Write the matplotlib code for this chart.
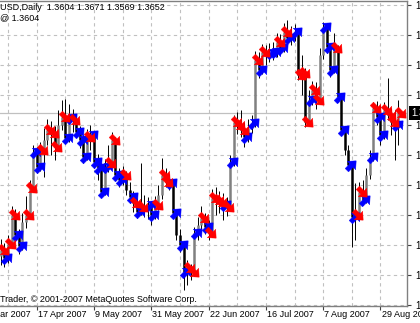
import matplotlib
matplotlib.use('Agg')
import matplotlib.pyplot as plt
import numpy as np
from matplotlib.path import Path
from matplotlib.markers import MarkerStyle
from matplotlib.transforms import Affine2D

# daily bars, EURUSD
opens = [1.3318, 1.3330, 1.3314, 1.3342, 1.3400, 1.3360, 1.3338, 1.3386, 1.3400, 1.3454,
         1.3526, 1.3496, 1.3530, 1.3550, 1.3570, 1.3564, 1.3536, 1.3580, 1.3596, 1.3554,
         1.3594, 1.3590, 1.3566, 1.3550, 1.3516, 1.3556, 1.3560, 1.3506, 1.3494, 1.3446,
         1.3496, 1.3504, 1.3550, 1.3480, 1.3470, 1.3480, 1.3450, 1.3436, 1.3424, 1.3406,
         1.3416, 1.3414, 1.3420, 1.3400, 1.3420, 1.3440, 1.3480, 1.3466, 1.3464, 1.3404,
         1.3360, 1.3340, 1.3286, 1.3294, 1.3286, 1.3364, 1.3380, 1.3394, 1.3376, 1.3364,
         1.3434, 1.3430, 1.3426, 1.3420, 1.3416, 1.3506, 1.3586, 1.3580, 1.3570, 1.3556,
         1.3574, 1.3584, 1.3710, 1.3690, 1.3726, 1.3720, 1.3724, 1.3726, 1.3746, 1.3734,
         1.3766, 1.3754, 1.3760, 1.3766, 1.3680, 1.3684, 1.3586, 1.3630, 1.3650, 1.3630,
         1.3720, 1.3776, 1.3736, 1.3690, 1.3734, 1.3636, 1.3570, 1.3530, 1.3500, 1.3396,
         1.3400, 1.3446, 1.3430, 1.3480, 1.3516, 1.3614, 1.3596, 1.3560, 1.3610, 1.3600,
         1.3586, 1.3580]
highs = [1.3352, 1.3345, 1.3360, 1.3418, 1.3412, 1.3372, 1.3404, 1.3438, 1.3470, 1.3540,
         1.3536, 1.3546, 1.3574, 1.3592, 1.3588, 1.3578, 1.3610, 1.3630, 1.3632, 1.3622,
         1.3612, 1.3600, 1.3578, 1.3560, 1.3572, 1.3580, 1.3568, 1.3522, 1.3504, 1.3512,
         1.3540, 1.3566, 1.3556, 1.3494, 1.3498, 1.3488, 1.3466, 1.3448, 1.3434, 1.3504,
         1.3440, 1.3436, 1.3428, 1.3438, 1.3460, 1.3514, 1.3494, 1.3482, 1.3470, 1.3410,
         1.3372, 1.3348, 1.3310, 1.3302, 1.3376, 1.3396, 1.3418, 1.3404, 1.3390, 1.3452,
         1.3456, 1.3448, 1.3444, 1.3436, 1.3520, 1.3600, 1.3606, 1.3610, 1.3586, 1.3592,
         1.3600, 1.3728, 1.3726, 1.3742, 1.3740, 1.3744, 1.3746, 1.3764, 1.3762, 1.3784,
         1.3790, 1.3778, 1.3782, 1.3772, 1.3720, 1.3694, 1.3650, 1.3668, 1.3666, 1.3734,
         1.3786, 1.3784, 1.3744, 1.3764, 1.3740, 1.3644, 1.3578, 1.3540, 1.3506, 1.3464,
         1.3466, 1.3470, 1.3494, 1.3530, 1.3626, 1.3628, 1.3620, 1.3626, 1.3674, 1.3614,
         1.3610, 1.3630]
lows = [1.3300, 1.3296, 1.3305, 1.3335, 1.3348, 1.3322, 1.3330, 1.3374, 1.3392, 1.3446,
        1.3484, 1.3488, 1.3476, 1.3540, 1.3520, 1.3510, 1.3528, 1.3570, 1.3544, 1.3546,
        1.3566, 1.3556, 1.3534, 1.3504, 1.3510, 1.3530, 1.3494, 1.3470, 1.3436, 1.3440,
        1.3486, 1.3498, 1.3470, 1.3456, 1.3460, 1.3440, 1.3424, 1.3406, 1.3394, 1.3400,
        1.3396, 1.3392, 1.3380, 1.3392, 1.3410, 1.3432, 1.3456, 1.3450, 1.3396, 1.3350,
        1.3326, 1.3250, 1.3260, 1.3270, 1.3278, 1.3350, 1.3368, 1.3362, 1.3350, 1.3356,
        1.3400, 1.3404, 1.3390, 1.3398, 1.3408, 1.3498, 1.3562, 1.3556, 1.3536, 1.3546,
        1.3564, 1.3576, 1.3674, 1.3682, 1.3700, 1.3706, 1.3710, 1.3716, 1.3720, 1.3726,
        1.3740, 1.3740, 1.3748, 1.3670, 1.3640, 1.3576, 1.3580, 1.3620, 1.3612, 1.3622,
        1.3712, 1.3724, 1.3676, 1.3684, 1.3626, 1.3560, 1.3520, 1.3490, 1.3336, 1.3350,
        1.3390, 1.3420, 1.3424, 1.3472, 1.3508, 1.3580, 1.3540, 1.3552, 1.3590, 1.3560,
        1.3510, 1.3540]
closes = [1.3330, 1.3314, 1.3342, 1.3400, 1.3360, 1.3338, 1.3386, 1.3400, 1.3454, 1.3526,
          1.3496, 1.3530, 1.3550, 1.3570, 1.3564, 1.3536, 1.3580, 1.3596, 1.3554, 1.3594,
          1.3590, 1.3566, 1.3550, 1.3516, 1.3556, 1.3560, 1.3506, 1.3494, 1.3446, 1.3496,
          1.3504, 1.3550, 1.3480, 1.3470, 1.3480, 1.3450, 1.3436, 1.3424, 1.3406, 1.3416,
          1.3414, 1.3420, 1.3400, 1.3420, 1.3440, 1.3480, 1.3466, 1.3464, 1.3404, 1.3360,
          1.3340, 1.3286, 1.3294, 1.3286, 1.3364, 1.3380, 1.3394, 1.3376, 1.3364, 1.3434,
          1.3430, 1.3426, 1.3420, 1.3416, 1.3506, 1.3586, 1.3580, 1.3570, 1.3556, 1.3574,
          1.3584, 1.3710, 1.3690, 1.3726, 1.3720, 1.3724, 1.3726, 1.3746, 1.3734, 1.3766,
          1.3754, 1.3760, 1.3766, 1.3680, 1.3684, 1.3586, 1.3630, 1.3650, 1.3630, 1.3720,
          1.3776, 1.3736, 1.3690, 1.3734, 1.3636, 1.3570, 1.3530, 1.3500, 1.3396, 1.3400,
          1.3446, 1.3430, 1.3480, 1.3516, 1.3614, 1.3596, 1.3560, 1.3610, 1.3600, 1.3586,
          1.3580, 1.3604]
# u = blue buy arrow, d = red sell arrow, - = none
signal = ("dudduu-ddu" "ud-ddd-duu" "duuuduuuuu" "dduud-udud" "-uud-dduu-"
          "uuddu-dudd" "ddududddu-" "udud-uudud" "u-udddudd-" "uuuduu-uud"
          "du-uduudddud")

tick_pos = [-6, 10, 26, 42, 58, 74, 90, 106]
tick_lab = ['26 Mar 2007', '17 Apr 2007', '9 May 2007', '31 May 2007',
            '22 Jun 2007', '16 Jul 2007', '7 Aug 2007', '29 Aug 2007']
price_ticks = [1.3820, 1.3760, 1.3700, 1.3640, 1.3580, 1.3520,
               1.3460, 1.3400, 1.3340, 1.3280, 1.3220]
last_price = 1.3604
header = 'USD,Daily  1.3604 1.3671 1.3569 1.3652'

o = np.array(opens); h = np.array(highs); l = np.array(lows); c = np.array(closes)
x = np.arange(len(c))
sig = np.array(list(signal))

FONT = 'Liberation Sans'
FS = 6.5

fig = plt.figure(figsize=(4.2, 3.23), dpi=100)
ax = fig.add_axes([0, 17/323, 407/420, 305/323])
ax.set_xlim(-0.25, 113.4)
ax.set_ylim(1.3218, 1.3828)

# grid
for gx in np.arange(2, 114, 8):
    ax.axvline(gx, color='#c0c0c0', lw=0.8, ls=(0, (3, 3)), zorder=0)
for p in price_ticks:
    ax.axhline(p, color='#c0c0c0', lw=0.8, ls=(0, (3, 3)), zorder=0)
ax.axhline(last_price, color='#c0c0c0', lw=0.9, zorder=0)

# bars
ax.vlines(x, l, h, color='black', lw=0.7, zorder=2)
bull = c >= o
ax.vlines(x[bull], o[bull], c[bull], color='#808080', lw=1.8, zorder=3)
ax.vlines(x[~bull], o[~bull], c[~bull], color='black', lw=1.8, zorder=3)

# arrows (fat wingdings-like)
verts = [(-1, -0.36), (0.0, -0.36), (0.0, -0.9), (1, 0), (0.0, 0.9),
         (0.0, 0.36), (-1, 0.36), (-1, -0.36)]
codes = [Path.MOVETO] + [Path.LINETO] * 6 + [Path.CLOSEPOLY]
arr = Path(verts, codes)
up_m = MarkerStyle(arr, transform=Affine2D().rotate_deg(45))
dn_m = MarkerStyle(arr, transform=Affine2D().rotate_deg(-45))
up = sig == 'u'
dn = sig == 'd'
ax.plot(x[up] + 0.8, c[up], ls='none', marker=up_m, ms=9.5, color='#0000ff',
        mec='#0000ff', mew=0.3, zorder=4)
ax.plot(x[dn] + 0.8, c[dn], ls='none', marker=dn_m, ms=9.5, color='#ff0000',
        mec='#ff0000', mew=0.3, zorder=4)

# axes look
ax.spines['left'].set_visible(False)
for s in ['right', 'bottom', 'top']:
    ax.spines[s].set_color('#808080')
    ax.spines[s].set_linewidth(1)

ax.yaxis.tick_right()
ax.set_yticks(price_ticks)
ax.set_yticklabels(['%.4f' % p for p in price_ticks], fontsize=7, family=FONT)
ax.tick_params(axis='y', length=3, width=0.8, color='#404040', pad=3)

ax.set_xticks(tick_pos[1:])
ax.set_xticklabels([])
ax.tick_params(axis='x', length=3, width=0.8, color='#404040')
for tp, tl in zip(tick_pos, tick_lab):
    ax.text(tp + 0.3, -0.013, tl, transform=ax.get_xaxis_transform(),
            ha='left', va='top', fontsize=FS, family=FONT, clip_on=False)

ax.text(1 + 4/407, last_price, '%.4f' % last_price, transform=ax.get_yaxis_transform(),
        ha='left', va='center', fontsize=7, family=FONT, color='white',
        bbox=dict(facecolor='black', edgecolor='none', pad=1.2), zorder=5)

fig.text(0.0, 1 - 8/323, header, ha='left', va='center', fontsize=FS, family=FONT)
fig.text(0.0, 1 - 18/323, '@ 1.3604', ha='left', va='center', fontsize=FS, family=FONT)
fig.text(0.0, 1 - 300/323, 'Trader, \u00a9 2001-2007 MetaQuotes Software Corp.',
         ha='left', va='center', fontsize=FS, family=FONT)

fig.savefig('out.png', dpi=100)
